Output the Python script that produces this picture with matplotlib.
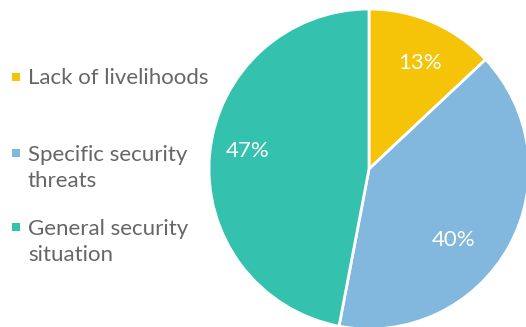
import matplotlib.pyplot as plt

# data
labels = ['Lack of livelihoods', 'Specific security\nthreats', 'General security\nsituation']
shares = [13, 40, 47]
colors = ['#F5C307', '#82B8DD', '#34C1AE']

plt.rcParams['font.family'] = ['Lato', 'DejaVu Sans']

fig = plt.figure(figsize=(5.26, 3.27), dpi=100)

# pie axes, square in pixels: 320x320, centre at (369, 169)
ax = fig.add_axes([209 / 526, (327 - 329) / 327, 320 / 526, 320 / 327])
wedges, texts, autotexts = ax.pie(shares, colors=colors, startangle=90, counterclock=False,
                                  autopct='%d%%', pctdistance=0.72, radius=1,
                                  wedgeprops=dict(edgecolor='white', linewidth=2))
# small nudges so the labels sit where the original puts them
nudges = [(0.03, 0.0), (-0.1, -0.1), (-0.04, 0.045)]
for t, (dx, dy) in zip(autotexts, nudges):
    x, y = t.get_position()
    t.set_position((x + dx, y + dy))
    t.set_color('white')
    t.set_fontsize(16)
ax.set_xlim(-1, 1)
ax.set_ylim(-1, 1)
ax.set_aspect('equal')
ax.axis('off')

# legend drawn by hand so the marker sits on the first line
lax = fig.add_axes([0, 0, 205 / 526, 1])
lax.set_xlim(0, 205)
lax.set_ylim(327, 0)
lax.axis('off')
rows = [84, 160, 234]   # baseline of first line, in px from top
line_h = 27
for y, lab, c in zip(rows, labels, colors):
    lax.scatter([16], [y - 7.5], marker='s', s=33, color=c, linewidths=0)
    # va='baseline' uses the last line, so shift down by the extra lines
    lax.text(28, y + line_h * lab.count('\n'), lab, fontsize=16, color='#666666',
             va='baseline', ha='left', linespacing=1.37)

fig.savefig('out.png', dpi=100)
